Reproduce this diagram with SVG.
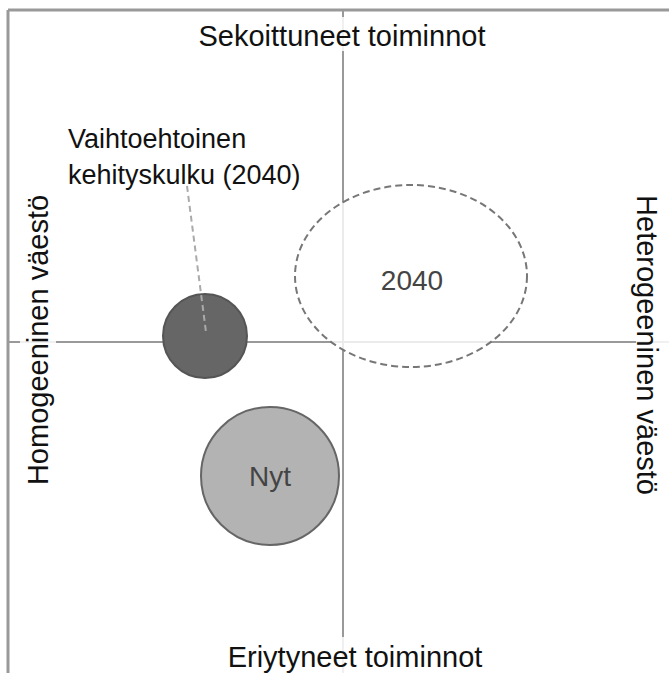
<svg xmlns="http://www.w3.org/2000/svg" width="669" height="673" viewBox="0 0 669 673">
<style>
.frame{stroke:#999;stroke-width:3;fill:none}
.axis{stroke:#999;stroke-width:2;fill:none}
.lbl{font-family:"Liberation Sans",Arial,sans-serif;font-size:29px;fill:#111}
.bg{fill:#fff;fill-opacity:0.85}
.num{font-family:"Liberation Sans",Arial,sans-serif;font-size:28px;fill:#444}
.note{font-family:"Liberation Sans",Arial,sans-serif;font-size:27px;fill:#111}
</style>
<rect width="669" height="673" fill="#fff"/>
<g id="frame">
<line class="frame" x1="8" y1="10" x2="669" y2="10"/>
<line class="frame" x1="8" y1="10" x2="8" y2="673"/>
</g>
<g id="axes">
<line class="axis" x1="343" y1="11" x2="343" y2="673"/>
<line class="axis" x1="9" y1="342" x2="669" y2="342"/>
</g>
<g id="future">
<ellipse cx="411" cy="276" rx="116" ry="91" fill="#fff" fill-opacity="0.8" stroke="#777" stroke-width="2" stroke-dasharray="7,4"/>
<text class="num" x="412" y="290" text-anchor="middle">2040</text>
</g>
<g id="alternative">
<circle cx="205" cy="336" r="42" fill="#666" stroke="#555" stroke-width="2"/>
</g>
<g id="now">
<circle cx="270" cy="476" r="69" fill="#b3b3b3" stroke="#666" stroke-width="2"/>
<text class="num" x="270" y="486" text-anchor="middle">Nyt</text>
</g>
<g id="connectors">
<line x1="187" y1="186" x2="206" y2="332" stroke="#aaa" stroke-width="2" stroke-dasharray="6,4"/>
</g>
<g id="alt-label">
<text class="note" x="68" y="148">Vaihtoehtoinen</text>
<text class="note" x="68" y="184">kehityskulku (2040)</text>
</g>
<g id="top-label">
<rect class="bg" x="192" y="17" width="300" height="34"/>
<text class="lbl" x="342" y="46" text-anchor="middle">Sekoittuneet toiminnot</text>
</g>
<g id="bottom-label">
<rect class="bg" x="222" y="637" width="266" height="36"/>
<text class="lbl" x="355" y="667" text-anchor="middle">Eriytyneet toiminnot</text>
</g>
<g id="left-label">
<rect class="bg" x="20" y="190" width="36" height="300"/>
<text class="lbl" transform="translate(48,340) rotate(-90)" text-anchor="middle">Homogeeninen väestö</text>
</g>
<g id="right-label">
<rect class="bg" x="636" y="193" width="33" height="305"/>
<text class="lbl" transform="translate(637,345) rotate(90)" text-anchor="middle">Heterogeeninen väestö</text>
</g>
</svg>
